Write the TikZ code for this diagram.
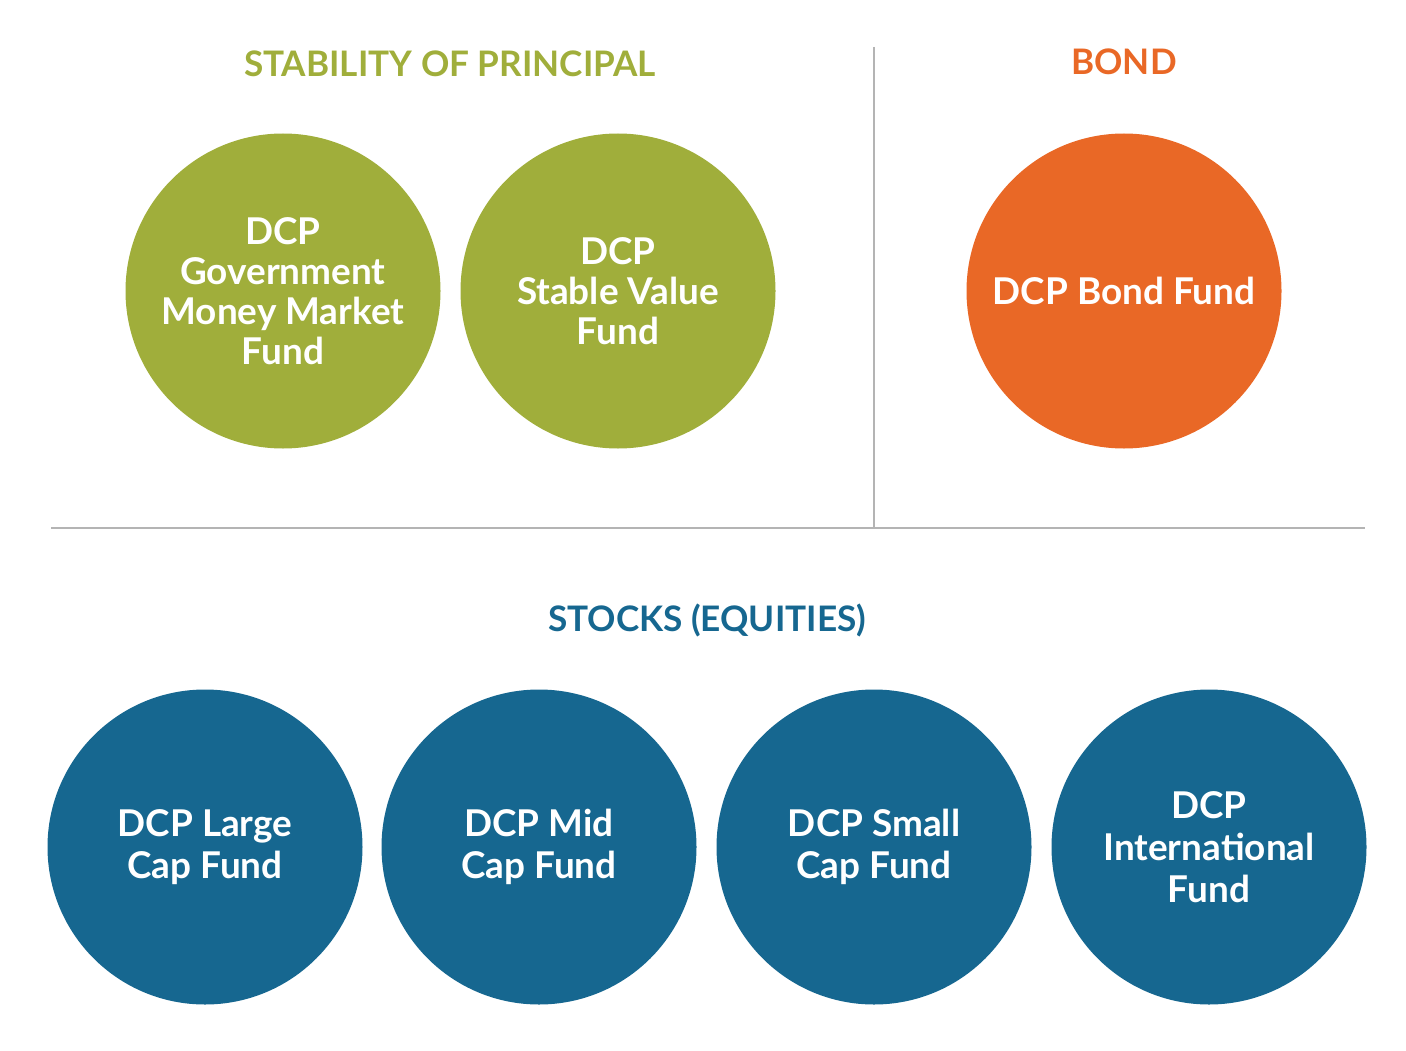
\documentclass[tikz,border=0pt]{standalone}
\usepackage{fontspec}
\setmainfont{Lato}
\definecolor{verde}{HTML}{A0AE3B}
\definecolor{arancio}{HTML}{E96826}
\definecolor{blu}{HTML}{166790}
\definecolor{grigio}{HTML}{B4B4B4}
\begin{document}
\begin{tikzpicture}[
		fondo/.style={circle, minimum size=3.15cm, inner sep=0pt, text=white, align=center,
			font=\bfseries\fontsize{10.5}{11.4}\selectfont},
		titolo/.style={font=\bfseries\fontsize{10}{12}\selectfont},
		divisore/.style={grigio, line width=0.5pt},
		]
		% ── Parametri impaginazione ──
		\def\ys{-2.91}     % quota centri riga superiore
		\def\yi{-8.47}     % quota centri riga inferiore
		\useasboundingbox (0,0) rectangle (14.06,-10.51);
		
		% ── Divisori ──
		\draw[divisore] (8.74,-0.47) -- (8.74,-5.28);
		\draw[divisore] (0.51,-5.28) -- (13.65,-5.28);
		
		% ===================== stabilita' del capitale =====================
		\node[titolo, text=verde] (tstab) at (4.50,-0.64) {STABILITY OF PRINCIPAL};
		\node[fondo, fill=verde] (gmm) at (2.83,\ys) {DCP\\Government\\Money Market\\Fund};
		\node[fondo, fill=verde] (sv)  at (6.18,\ys) {DCP\\Stable Value\\Fund};
		
		% ===================== obbligazioni =====================
		\node[titolo, text=arancio] (tbond) at (11.24,-0.62) {BOND};
		\node[fondo, fill=arancio] (bond) at (11.24,\ys) {DCP Bond Fund};
		
		% ===================== azioni =====================
		\node[titolo, text=blu] (tstock) at (7.07,-6.20) {STOCKS (EQUITIES)};
		\node[fondo, fill=blu, font=\bfseries\fontsize{10.5}{12}\selectfont] (large) at (2.05,\yi)  {DCP Large\\Cap Fund};
		\node[fondo, fill=blu, font=\bfseries\fontsize{10.5}{12}\selectfont] (mid)   at (5.39,\yi)  {DCP Mid\\Cap Fund};
		\node[fondo, fill=blu, font=\bfseries\fontsize{10.5}{12}\selectfont] (small) at (8.74,\yi)  {DCP Small\\Cap Fund};
		\node[fondo, fill=blu, font=\bfseries\fontsize{10.5}{12}\selectfont] (intl)  at (12.09,\yi) {DCP\\International\\Fund};
		
	\end{tikzpicture}
\end{document}
